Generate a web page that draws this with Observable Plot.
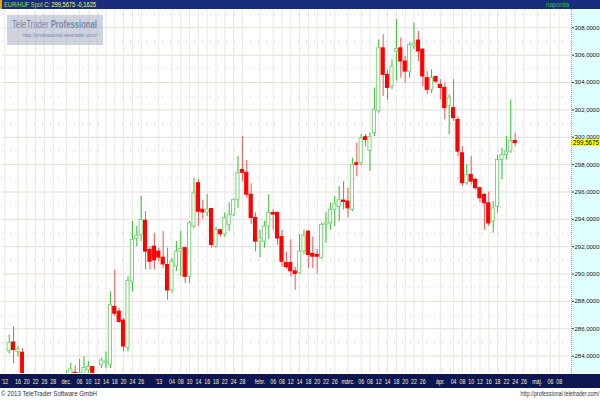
<!DOCTYPE html>
<html><head><meta charset="utf-8">
<script src="https://cdn.jsdelivr.net/npm/d3@7"></script>
<script src="https://cdn.jsdelivr.net/npm/@observablehq/plot@0.6"></script>
<style>
body{margin:0;background:#fff;font-family:"Liberation Sans",Arial,sans-serif;}
#wrap{position:relative;width:600px;height:400px;overflow:hidden;background:#fff}
#hdr{position:absolute;left:0;top:0;width:600px;height:9px;background:#1a2c7c;font-size:8px;line-height:9px;white-space:nowrap}
#hdr .or{position:absolute;left:0;top:0;width:2px;height:9px;background:#f0a000}
.fit{position:absolute;white-space:nowrap;display:inline-block;transform-origin:left top}
#hdrtxt{left:4px;top:0}
#hdrtxt .g{color:#a8e030}
#hdrtxt .y{color:#ffff50}
#hdr .np{left:546px;top:0;color:#20d020}
#rpanel{position:absolute;left:571px;top:9px;width:29px;height:364px;background:#e0ffff;border-left:1px dotted #c8a840;box-sizing:border-box}
#xbar{position:absolute;left:0;top:374px;width:600px;height:14px;background:#0e1652}
#chart{position:absolute;left:0;top:0}
#logo{position:absolute;left:7px;top:15px;width:96px;height:30px;background:rgba(168,174,194,0.55);color:#7888b0}
#logo .t1{left:5px;top:3px;font-size:11px}
#logo .t2{left:16px;top:17px;font-size:6px}
#last{position:absolute;left:572px;width:28px;height:7px;background:#ffff00;color:#000;font-size:6.5px;line-height:7px;overflow:hidden}
#last span{left:1px;top:0}
#foot1{left:1px;top:389px;font-size:7.5px;color:#333}
#foot2{right:1px;top:390px;font-size:7px;color:#333;transform-origin:right top}
</style></head><body>
<div id="wrap">
  <div id="hdr"><span class="or"></span><span class="fit" id="hdrtxt" data-w="92"><span class="g">EUR/HUF Spot</span> <span class="y" id="hdrval"></span></span><span class="fit np" data-w="23">naponta</span></div>
  <div id="rpanel"></div>
  <div id="xbar"></div>
  <div id="chart"></div>
  <div id="logo"><span class="fit t1" data-w="85">TeleTrader <b>Professional</b></span><span class="fit t2" data-w="74">http://professional.teletrader.com/</span></div>
  <div id="last"><span class="fit" id="lastv" data-w="26"></span></div>
  <span class="fit" id="foot1" data-w="96">© 2013 TeleTrader Software GmbH</span>
  <span class="fit" id="foot2" data-w="79">http://professional.teletrader.com/</span>
</div>
<script>
// trading days (weekdays) shown on the chart
const dates = [
"2012-11-14","2012-11-15","2012-11-16","2012-11-19",
"2012-12-03","2012-12-04","2012-12-05","2012-12-06","2012-12-07","2012-12-10","2012-12-11","2012-12-12","2012-12-13","2012-12-14",
"2012-12-17","2012-12-18","2012-12-19","2012-12-20","2012-12-21","2012-12-24","2012-12-25","2012-12-26","2012-12-27","2012-12-28",
"2012-12-31","2013-01-01","2013-01-02","2013-01-03","2013-01-04","2013-01-07","2013-01-08","2013-01-09","2013-01-10","2013-01-11",
"2013-01-14","2013-01-15","2013-01-16","2013-01-17","2013-01-18","2013-01-21","2013-01-22","2013-01-23","2013-01-24","2013-01-25",
"2013-01-28","2013-01-29","2013-01-30","2013-01-31","2013-02-01","2013-02-04","2013-02-05","2013-02-06","2013-02-07","2013-02-08",
"2013-02-11","2013-02-12","2013-02-13","2013-02-14","2013-02-15","2013-02-18","2013-02-19","2013-02-20","2013-02-21","2013-02-22",
"2013-02-25","2013-02-26","2013-02-27","2013-02-28","2013-03-01","2013-03-04","2013-03-05","2013-03-06","2013-03-07","2013-03-08",
"2013-03-11","2013-03-12","2013-03-13","2013-03-14","2013-03-15","2013-03-18","2013-03-19","2013-03-20","2013-03-21","2013-03-22",
"2013-03-25","2013-03-26","2013-03-27","2013-03-28","2013-03-29","2013-04-01","2013-04-02","2013-04-03","2013-04-04","2013-04-05",
"2013-04-08","2013-04-09","2013-04-10","2013-04-11","2013-04-12","2013-04-15","2013-04-16","2013-04-17","2013-04-18","2013-04-19",
"2013-04-22","2013-04-23","2013-04-24"];
const open = [284.35,285.0,284.3,284.25,
282.0,282.3,282.78,282.3,282.7,282.99,283.2,282.1,283.33,283.5,
283.33,287.6,287.25,286.6,284.6,289.45,292.55,292.85,293.9,291.76,
292.0,291.64,291.2,290.66,288.8,290.55,291.64,291.9,289.8,293.47,
296.64,294.7,294.5,294.75,292.0,293.2,292.9,293.6,294.3,295.4,
297.6,297.4,295.8,294.1,292.37,292.37,293.47,294.47,294.47,292.7,
290.8,290.8,290.2,290.05,291.64,293.1,291.47,291.4,291.15,293.6,
293.7,294.7,294.9,295.37,295.3,294.7,298.1,298.1,300.0,299.0,
300.3,301.9,306.5,304.56,303.7,306.27,306.5,305.54,304.8,306.7,
307.07,306.4,304.32,303.47,304.4,303.83,303.6,302.26,302.13,301.27,
298.83,296.64,297.25,296.88,296.27,295.78,295.17,293.85,294.9,298.34,
298.7,298.95,299.73];
const high = [285.54,286.15,284.7,284.56,
282.93,283.47,283.3,283.76,283.95,283.6,283.25,282.75,283.84,284.3,
288.7,290.3,287.5,286.75,289.8,293.85,293.47,295.66,294.56,292.0,
292.98,291.9,293.1,291.9,291.15,292.37,293.1,291.9,293.85,297.0,
296.9,295.4,295.8,294.8,293.4,293.25,294.47,295.2,295.5,298.6,
300.05,298.3,296.6,294.47,293.2,293.85,295.8,294.7,294.5,293.2,
291.6,292.5,290.5,292.9,293.2,293.2,292.7,291.8,293.7,294.47,
295.2,295.66,296.4,296.75,296.27,298.47,299.56,300.2,300.2,300.3,
303.6,307.1,307.5,304.9,305.66,308.6,307.25,305.9,306.88,308.34,
307.73,306.5,304.8,304.93,304.5,304.2,303.95,303.1,304.2,301.5,
299.3,297.98,298.6,297.0,296.3,295.9,296.0,295.3,298.7,299.2,
300.05,302.73,300.3];
const low = [284.15,283.45,283.95,282.0,
281.7,282.1,282.0,282.2,282.5,282.6,282.0,281.9,283.1,283.1,
283.1,286.9,286.4,284.3,284.3,288.7,292.0,292.37,290.3,290.3,
290.3,290.9,290.4,288.1,288.6,290.18,289.8,289.3,289.3,293.3,
293.47,294.0,294.2,291.9,291.9,292.7,292.7,293.1,294.2,294.8,
296.75,295.55,293.6,291.64,291.2,291.9,292.5,293.2,292.1,290.5,
290.35,289.8,288.8,290.0,291.4,290.4,290.4,290.0,291.1,292.26,
293.2,293.47,293.85,294.7,294.1,294.56,297.1,297.9,299.3,297.5,
300.05,301.76,302.98,302.7,303.47,304.1,304.32,303.95,304.32,306.4,
305.54,303.7,303.1,303.2,303.9,302.73,301.27,300.2,301.15,298.6,
296.4,296.5,296.5,296.15,295.2,293.2,293.47,292.98,294.44,296.9,
298.34,298.83,299.3];
const close = [284.95,284.45,284.5,282.3,
282.5,283.03,282.3,282.75,283.13,283.2,282.2,282.5,283.68,283.6,
287.73,287.1,286.5,284.7,289.5,292.5,292.8,293.95,291.64,290.9,
291.0,291.2,290.7,288.8,290.9,291.64,291.83,289.8,293.7,295.9,
294.56,294.5,294.7,292.13,293.2,292.9,294.1,294.3,295.4,297.37,
297.4,295.8,294.1,292.37,292.6,293.47,294.47,294.35,292.6,290.9,
290.5,290.2,290.0,291.64,292.8,291.4,291.27,291.27,293.6,293.7,
294.7,295.1,295.4,295.27,294.8,297.98,297.98,299.9,299.8,300.0,
302.0,306.5,304.56,303.6,305.17,306.44,305.54,304.8,306.76,306.83,
306.27,304.44,303.47,304.32,304.07,303.6,302.13,302.86,301.4,298.95,
296.64,297.25,296.76,296.27,295.54,295.17,293.7,294.8,298.34,298.7,
298.95,299.73,299.5675];

// x-axis labels
const tickDates = ["2012-11-13","2012-11-16","2012-11-20","2012-11-22","2012-11-26","2012-11-28","2012-12-03","2012-12-06","2012-12-10","2012-12-12","2012-12-14","2012-12-18","2012-12-20","2012-12-24","2012-12-26",
"2013-01-01","2013-01-04","2013-01-08","2013-01-10","2013-01-14","2013-01-16","2013-01-18","2013-01-22","2013-01-24","2013-01-28",
"2013-02-01","2013-02-06","2013-02-08","2013-02-12","2013-02-14","2013-02-18","2013-02-20","2013-02-22","2013-02-26",
"2013-03-01","2013-03-06","2013-03-08","2013-03-12","2013-03-14","2013-03-18","2013-03-20","2013-03-22","2013-03-26",
"2013-04-01","2013-04-04","2013-04-08","2013-04-10","2013-04-12","2013-04-16","2013-04-18","2013-04-22","2013-04-24","2013-04-26",
"2013-05-01","2013-05-06","2013-05-08"];
const tickLabels = ["'12","16","20","22","26","28","dec.","06","10","12","14","18","20","24","26",
"'13","04","08","10","14","16","18","22","24","28",
"febr.","06","08","12","14","18","20","22","26",
"márc.","06","08","12","14","18","20","22","26",
"ápr.","04","08","10","12","16","18","22","24","26",
"máj.","06","08"];
const yTicks = [284,286,288,290,292,294,296,298,300,302,304,306,308];
const yMinor = [283,285,287,289,291,293,295,297,299,301,303,305,307,309];

// weekday index relative to the first candle
const t0 = new Date("2012-11-14T00:00:00Z");
const isWeekday = d => d.getUTCDay() % 6 !== 0;
function tIndex(s) {
  const d = new Date(s + "T00:00:00Z");
  return d >= t0 ? d3.utcDays(t0, d).filter(isWeekday).length
                 : -d3.utcDays(d, t0).filter(isWeekday).length;
}
const candles = dates.map((s, k) => ({i: tIndex(s), o: open[k], h: high[k], l: low[k], c: close[k], up: close[k] >= open[k]}));
const ticks = tickDates.map(tIndex);
const labelOf = new Map(ticks.map((t, k) => [t, tickLabels[k]]));

const GREEN_W = "#28c428", GREEN_B = "#78d878", RED_W = "#ff5050", RED_B = "#ff0000";
const fmt = v => v.toFixed(4).replace(".", ",");

const chart = Plot.plot({
  width: 600, height: 400,
  marginLeft: 2, marginRight: 29, marginTop: 9, marginBottom: 27,
  style: {background: "transparent", fontFamily: "Liberation Sans, Arial, sans-serif"},
  x: {type: "linear", domain: [-1.52, 127.8], axis: null},
  y: {domain: [282.73, 309.34], axis: null},
  marks: [
    Plot.ruleY(yTicks, {stroke: "#e6dcdc", strokeWidth: 1}),
    Plot.ruleY(yMinor, {stroke: "#c8c8c8", strokeDasharray: "1,7", clip: true}),
    Plot.ruleX(ticks, {stroke: "#ece6e6", clip: true}),
    Plot.ruleX(candles, {x: "i", y1: "l", y2: "h", stroke: d => d.up ? GREEN_W : RED_W, strokeWidth: 1, clip: true}),
    Plot.rect(candles, {x1: d => d.i - 0.36, x2: d => d.i + 0.36, y1: "o", y2: "c",
      fill: d => d.up ? "#ffffff" : RED_B, stroke: d => d.up ? GREEN_B : RED_B, strokeWidth: 1, clip: true}),
    Plot.axisX(ticks, {anchor: "bottom", tickSize: 0, tickPadding: 6, fontSize: 7, fill: "#f2eec8",
      tickFormat: t => labelOf.get(t)}),
    Plot.axisY(yTicks, {anchor: "right", tickSize: 2, tickPadding: 1, fontSize: 6, fill: "#111", stroke: "#333",
      tickFormat: fmt})
  ]
});
document.getElementById("chart").appendChild(chart);

// condensed look of the original font: squeeze x-axis labels
chart.querySelectorAll('g[aria-label="x-axis tick label"] text').forEach(t => {
  t.setAttribute("textLength", (t.getComputedTextLength() * 0.75).toFixed(2));
  t.setAttribute("lengthAdjust", "spacingAndGlyphs");
});

// last value marker and header values
const last = close[close.length - 1], prev = close[close.length - 2];
const yLast = chart.scale("y").apply(last);
document.getElementById("lastv").textContent = fmt(last);
document.getElementById("last").style.top = (yLast - 3.5) + "px";
document.getElementById("hdrval").textContent = "C: " + fmt(last) + " " + fmt(last - prev);

// fit HTML texts to the narrow widths of the original
document.querySelectorAll(".fit").forEach(el => {
  const w = +el.dataset.w, nat = el.getBoundingClientRect().width;
  if (w && nat) el.style.transform = `scaleX(${(w / nat).toFixed(3)})`;
});
</script>
</body></html>
